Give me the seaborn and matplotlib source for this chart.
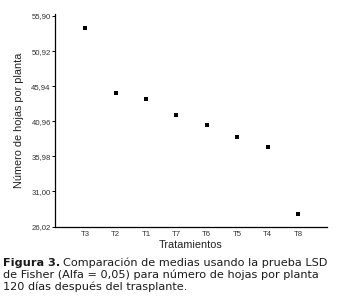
import numpy as np
import pandas as pd
import matplotlib
matplotlib.use("Agg")
import matplotlib.pyplot as plt
import seaborn as sns

# medias por tratamiento
tratamientos = ["T3", "T2", "T1", "T7", "T6", "T5", "T4", "T8"]
medias = [54.20, 45.00, 44.13, 41.80, 40.48, 38.69, 37.36, 27.77]
yticks = [26.02, 31.00, 35.98, 40.96, 45.94, 50.92, 55.90]

df = pd.DataFrame({"Tratamientos": tratamientos, "medias": medias})

sns.set_style("white")
plt.rcParams["font.family"] = ["Liberation Sans", "DejaVu Sans"]

fig = plt.figure(figsize=(3.41, 3.03), dpi=100)
ax = fig.add_axes([55 / 341, 1 - 226.5 / 303, 272 / 341, 212.5 / 303])

sns.stripplot(data=df, x="Tratamientos", y="medias", order=tratamientos,
              jitter=False, marker="s", size=3.4, color="black", ax=ax)

ax.set_xlim(-0.99, 7.95)
ax.set_ylim(26.02, 56.18)
ax.set_yticks(yticks)
ax.set_yticklabels([f"{v:.2f}".replace(".", ",") for v in yticks])

sns.despine(ax=ax)
for side in ["left", "bottom"]:
    ax.spines[side].set_color("black")
    ax.spines[side].set_linewidth(0.9)

ax.tick_params(axis="y", length=2, width=0.7, color="black", pad=1,
               labelsize=5.6, labelcolor="#333333", left=True)
ax.tick_params(axis="x", length=0, pad=3, labelsize=5.6, labelcolor="#333333")

ax.set_xlabel("Tratamientos", fontsize=7.8, color="#222222", labelpad=2)
ax.set_ylabel("Número de hojas por planta", fontsize=7.8, color="#222222", labelpad=5)

# leyenda de la figura (fuente más ancha, como en el original)
cap_kw = dict(fontsize=8.1, color="#1a1a1a", va="baseline", family="DejaVu Sans")
t1 = fig.text(3 / 341, 1 - 266.3 / 303, "Figura 3.", fontweight="bold", **cap_kw)
fig.canvas.draw()
ext = t1.get_window_extent()
fig.text((ext.x1 + 3) / 341, 1 - 266.3 / 303, "Comparación de medias usando la prueba LSD", **cap_kw)
fig.text(3 / 341, 1 - 278.3 / 303, "de Fisher (Alfa = 0,05) para número de hojas por planta", **cap_kw)
fig.text(3 / 341, 1 - 289.7 / 303, "120 días después del trasplante.", **cap_kw)

fig.savefig("out.png", dpi=100)
